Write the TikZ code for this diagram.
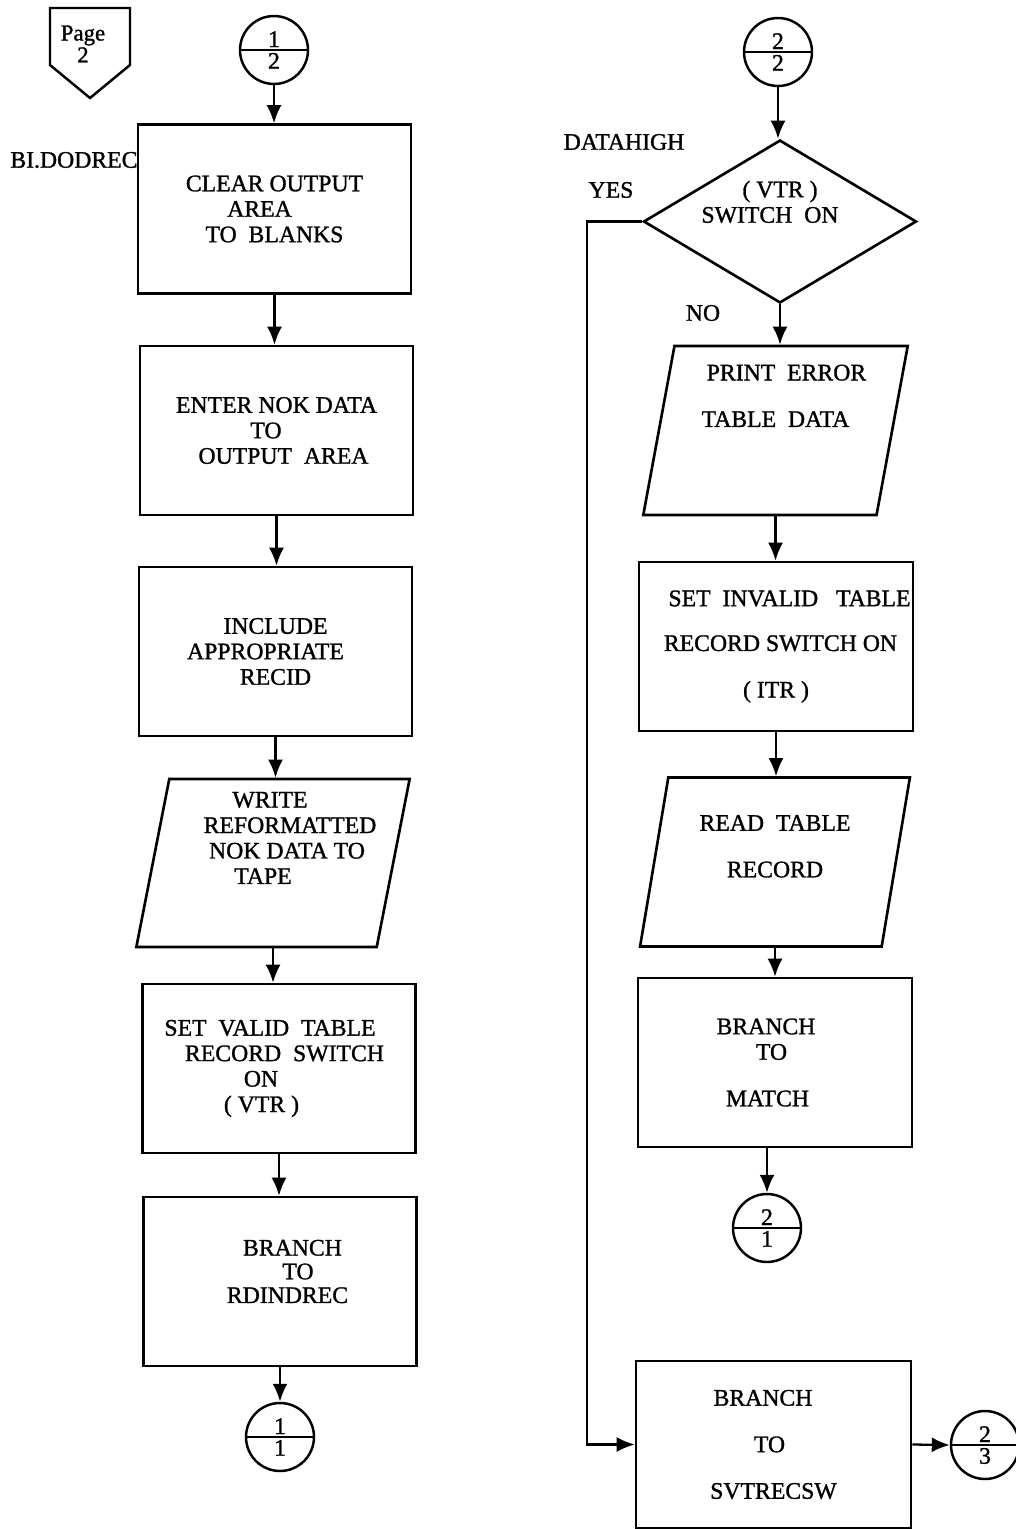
\documentclass[tikz,border=0pt]{standalone}
\usepackage{fontspec}
\setmainfont{Liberation Serif}[FakeBold=1.2]
\usetikzlibrary{arrows.meta,shapes.geometric,shapes.multipart}

\newcommand\chartfont{\fontsize{13.5}{14.5}\selectfont}
\newcommand\nudge[1]{\hspace*{#1}}

\tikzset{
  procbox/.style={draw, line width=1.5pt, minimum width=5.46cm, minimum height=3.38cm, inner sep=0pt, align=center, font=\chartfont},
  iobox/.style={trapezium, trapezium stretches=true, trapezium left angle=78, trapezium right angle=102, draw, line width=1.5pt, minimum width=5.4cm, minimum height=3.38cm, inner sep=0pt, align=center, font=\chartfont},
  decbox/.style={diamond, aspect=1.67, draw, line width=1.5pt, minimum width=5.46cm, minimum height=3.26cm, inner sep=0pt, align=center, font=\chartfont},
  connect/.style={circle split, draw, line width=1.4pt, minimum size=1.36cm, inner sep=1pt, font=\chartfont},
  flow/.style={line width=1.3pt, -{Latex[length=3.6mm,width=3mm]}},
  tag/.style={font=\chartfont, inner sep=0pt}
}

\begin{document}
\begin{tikzpicture}[x=0.02cm, y=-0.02cm]
  %%%%% START %%%%%
  \useasboundingbox (0,0) rectangle (1016,1529);

  % page marker
  \draw[line width=1.4pt] (50,8) -- (130,8) -- (130,65) -- (90,98) -- (50,65) -- cycle;
  \node (pg) [tag, align=center, font=\fontsize{13}{12.5}\selectfont] at (83,44) {Page\\2};

  % left column
  \node (c12) [connect] at (274,50) {1\nodepart{lower}2};
  \node (entry) [tag, anchor=west] at (10,160) {BI.DODREC};
  \node (b1) [procbox] at (274.5,209) {CLEAR OUTPUT\\\nudge{-0.6cm}AREA\\TO\ \ BLANKS};
  \node (b2) [procbox] at (276.5,430.5) {ENTER NOK DATA\\\nudge{-0.42cm}TO\\\nudge{0.28cm}OUTPUT\ \ AREA};
  \node (b3) [procbox] at (275.5,651.5) {INCLUDE\\\nudge{-0.4cm}APPROPRIATE\\RECID};
  \node (p1) [iobox, trapezium left angle=77, trapezium right angle=103, minimum width=5.48cm, minimum height=3.36cm] at (273,863)
    {\nudge{-0.12cm}WRITE\\\nudge{0.68cm}REFORMATTED\\\nudge{0.56cm}NOK DATA TO\\\nudge{-0.4cm}TAPE\\[14pt]\mbox{}};
  \node (b5) [procbox] at (279,1068.5) {\nudge{-0.36cm}SET\ \ VALID\ \ TABLE\\\nudge{0.22cm}RECORD\ \ SWITCH\\\nudge{-0.72cm}ON\\\nudge{-0.7cm}( VTR )};
  \node (b6) [procbox] at (280,1281.5) {\nudge{0.5cm}BRANCH\\[-1pt]\nudge{0.72cm}TO\\[-1pt]\nudge{0.3cm}RDINDREC\\[-3pt]\mbox{}};
  \node (c11) [connect] at (280,1437) {1\nodepart{lower}1};

  \draw[flow] (c12.south) -- (c12.south |- b1.north);
  \draw[flow] (b1.south) -- (b1.south |- b2.north);
  \draw[flow] (b2.south) -- (b2.south |- b3.north);
  \draw[flow] (b3.south) -- (b3.south |- p1.north);
  \draw[flow] (p1.south) -- (p1.south |- b5.north);
  \draw[flow] (b5.south) -- (b5.south |- b6.north);
  \draw[flow] (b6.south) -- (c11.north);

  % right column
  \node (c22) [connect] at (778,52) {2\nodepart{lower}2};
  \node (dhigh) [tag] at (624,142) {DATAHIGH};
  \node (dec) [decbox] at (780,221.5) {( VTR )\\\nudge{-0.4cm}SWITCH\ \ ON\\[8pt]\mbox{}};
  \node (yeslbl) [tag] at (611,190) {YES};
  \node (nolbl) [tag] at (703,313) {NO};
  \node (p2) [iobox, minimum width=5.3cm] at (775.5,430.5) {\nudge{0.44cm}PRINT\ \ ERROR\\[12pt]TABLE\ \ DATA\\[25pt]\mbox{}};
  \node (itr) [procbox, minimum width=5.48cm] at (776,646.5) {\nudge{0.54cm}SET\ \ INVALID\ \ \ TABLE\\[11pt]\nudge{0.18cm}RECORD SWITCH ON\\[12pt]( ITR )};
  \node (p3) [iobox] at (775,862) {READ\ \ TABLE\\[12pt]RECORD\\[3.5pt]\mbox{}};
  \node (match) [procbox, minimum width=5.48cm] at (775,1062.5) {\nudge{-0.36cm}BRANCH\\\nudge{-0.14cm}TO\\[12pt]\nudge{-0.3cm}MATCH};
  \node (c21) [connect] at (767,1228) {2\nodepart{lower}1};
  \node (br3) [procbox, minimum width=5.5cm, minimum height=3.34cm] at (773.5,1444.5) {\nudge{-0.42cm}BRANCH\\[12pt]\nudge{-0.16cm}TO\\[12pt]SVTRECSW};
  \node (c23) [connect] at (985,1445) {2\nodepart{lower}3};
  \coordinate (yes) at ([xshift=-1.1cm]dec.west);

  \draw[flow] (c22.south) -- (c22.south |- dec.north);
  \draw[flow] (dec.south) -- (dec.south |- p2.north);
  \draw[flow] (p2.south) -- (p2.south |- itr.north);
  \draw[flow] (itr.south) -- (itr.south |- p3.north);
  \draw[flow] (p3.south) -- (p3.south |- match.north);
  \draw[flow] (c21.north |- match.south) -- (c21.north);
  \draw[flow] (dec.west) -- (yes) |- (br3.west);
  \draw[flow] (br3.east) -- (c23.west);
  %%%%% END %%%%%
\end{tikzpicture}
\end{document}
